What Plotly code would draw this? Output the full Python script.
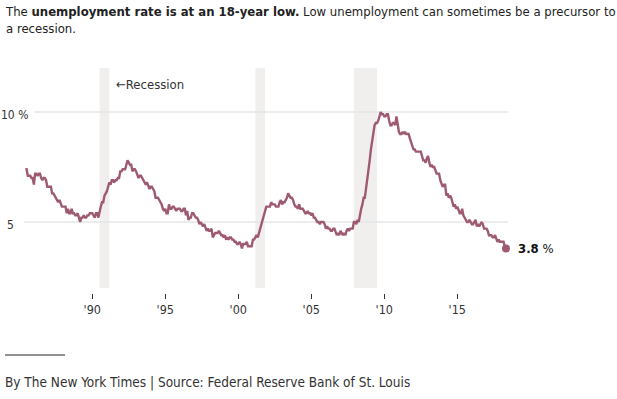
import plotly.graph_objects as go

# Monthly US unemployment rate (%), June 1985 - May 2018
start_year = 1985
start_month = 6
rate_1985_1989 = [7.4, 7.4, 7.1, 7.1, 7.1, 7.0, 7.0,
                  6.7, 7.2, 7.2, 7.1, 7.2, 7.2, 7.0, 6.9, 7.0, 7.0, 6.9, 6.6,
                  6.6, 6.6, 6.6, 6.3, 6.3, 6.2, 6.1, 6.0, 5.9, 6.0, 5.8, 5.7,
                  5.7, 5.7, 5.7, 5.4, 5.6, 5.4, 5.4, 5.6, 5.4, 5.4, 5.3, 5.3,
                  5.4, 5.2, 5.0, 5.2, 5.2, 5.3, 5.2, 5.2, 5.3, 5.3, 5.4, 5.4]
rate_1990_1999 = [5.4, 5.3, 5.2, 5.4, 5.4, 5.2, 5.5, 5.7, 5.9, 5.9, 6.2, 6.3,
                  6.4, 6.6, 6.8, 6.7, 6.9, 6.9, 6.8, 6.9, 6.9, 7.0, 7.0, 7.3,
                  7.3, 7.4, 7.4, 7.4, 7.6, 7.8, 7.7, 7.6, 7.6, 7.3, 7.4, 7.4,
                  7.3, 7.1, 7.0, 7.1, 7.1, 7.0, 6.9, 6.8, 6.7, 6.8, 6.6, 6.5,
                  6.6, 6.6, 6.5, 6.4, 6.1, 6.1, 6.1, 6.0, 5.9, 5.8, 5.6, 5.5,
                  5.6, 5.4, 5.4, 5.8, 5.6, 5.6, 5.7, 5.7, 5.6, 5.5, 5.6, 5.6,
                  5.6, 5.5, 5.5, 5.6, 5.6, 5.3, 5.5, 5.1, 5.2, 5.2, 5.4, 5.4,
                  5.3, 5.2, 5.2, 5.1, 4.9, 5.0, 4.9, 4.8, 4.9, 4.7, 4.6, 4.7,
                  4.6, 4.6, 4.7, 4.3, 4.4, 4.5, 4.5, 4.5, 4.6, 4.5, 4.4, 4.4,
                  4.3, 4.4, 4.2, 4.3, 4.2, 4.3, 4.3, 4.2, 4.2, 4.1, 4.1, 4.0]
rate_2000_2009 = [4.0, 4.1, 4.0, 3.8, 4.0, 4.0, 4.0, 4.1, 3.9, 3.9, 3.9, 3.9,
                  4.2, 4.2, 4.3, 4.4, 4.3, 4.5, 4.6, 4.9, 5.0, 5.3, 5.5, 5.7,
                  5.7, 5.7, 5.7, 5.9, 5.8, 5.8, 5.8, 5.7, 5.7, 5.7, 5.9, 6.0,
                  5.8, 5.9, 5.9, 6.0, 6.1, 6.3, 6.2, 6.1, 6.1, 6.0, 5.8, 5.7,
                  5.7, 5.6, 5.8, 5.6, 5.6, 5.6, 5.5, 5.4, 5.4, 5.5, 5.4, 5.4,
                  5.3, 5.4, 5.2, 5.2, 5.1, 5.0, 5.0, 4.9, 5.0, 5.0, 5.0, 4.9,
                  4.7, 4.8, 4.7, 4.7, 4.6, 4.6, 4.7, 4.7, 4.5, 4.4, 4.5, 4.4,
                  4.6, 4.5, 4.4, 4.5, 4.4, 4.6, 4.7, 4.6, 4.7, 4.7, 4.7, 5.0,
                  5.0, 4.9, 5.1, 5.0, 5.4, 5.6, 5.8, 6.1, 6.1, 6.5, 6.8, 7.3,
                  7.8, 8.3, 8.7, 9.0, 9.4, 9.5, 9.5, 9.6, 9.8, 10.0, 9.9, 9.9]
rate_2010_2018 = [9.8, 9.8, 9.9, 9.9, 9.6, 9.4, 9.4, 9.5, 9.5, 9.4, 9.8, 9.3,
                  9.1, 9.0, 9.0, 9.1, 9.0, 9.1, 9.0, 9.0, 9.0, 8.8, 8.6, 8.5,
                  8.3, 8.3, 8.2, 8.2, 8.2, 8.2, 8.2, 8.0, 7.8, 7.8, 7.7, 7.9,
                  8.0, 7.7, 7.5, 7.6, 7.5, 7.5, 7.3, 7.2, 7.2, 7.2, 6.9, 6.7,
                  6.6, 6.7, 6.7, 6.2, 6.3, 6.1, 6.2, 6.1, 5.9, 5.7, 5.8, 5.6,
                  5.7, 5.5, 5.4, 5.4, 5.6, 5.3, 5.2, 5.1, 5.0, 5.0, 5.1, 5.0,
                  4.9, 4.9, 5.0, 5.1, 4.8, 4.9, 4.8, 4.9, 5.0, 4.9, 4.7, 4.7,
                  4.7, 4.6, 4.4, 4.4, 4.4, 4.3, 4.3, 4.4, 4.2, 4.1, 4.2, 4.1,
                  4.1, 4.1, 4.1, 3.9, 3.8]

recession_starts = [1990.5, 2001.17, 2007.92]
recession_ends = [1991.17, 2001.83, 2009.5]

tick_years = [1990, 1995, 2000, 2005, 2010, 2015]
tick_labels = ["'90", "'95", "'00", "'05", "'10", "'15"]
grid_values = [5, 10]
grid_labels = ["5", "10 %"]

rates = rate_1985_1989 + rate_1990_1999 + rate_2000_2009 + rate_2010_2018
x = [start_year + (start_month - 1 + i) / 12 for i in range(len(rates))]

FONT = "DejaVu Sans Condensed, Roboto, Arial, sans-serif"
LINE = "#9f5a73"
W, H = 617, 399

# plot area geometry (pixels)
L, R, T, B = 20, 520, 60, 293


def px(v):
    return (v - L) / (R - L)


def py(v):
    return (B - v) / (B - T)


px_per_year = 14.6
x0_px = 92.3
px_per_unit = 22.0
y5_px = 222.0
xr = [1990 - (x0_px - L) / px_per_year, 1990 + (R - x0_px) / px_per_year]
yr = [5 - (B - y5_px) / px_per_unit, 5 + (y5_px - T) / px_per_unit]

fig = go.Figure()

shapes = []
for s, e in zip(recession_starts, recession_ends):
    shapes.append(dict(type="rect", xref="x", yref="paper", x0=s, x1=e,
                       y0=py(288), y1=py(68), fillcolor="#f1efed",
                       line=dict(width=0), layer="below"))
grid_start = [1985.3, 1986.05]
for v, gs in zip(grid_values, grid_start):
    shapes.append(dict(type="line", xref="x", yref="y", x0=gs, x1=2018.47,
                       y0=v, y1=v, line=dict(color="#e6e6e6", width=1.5),
                       layer="below"))
# footer rule
shapes.append(dict(type="line", xref="paper", yref="paper", x0=px(5), x1=px(65),
                   y0=py(355), y1=py(355), line=dict(color="#222", width=1)))

fig.add_trace(go.Scatter(x=x, y=rates, mode="lines",
                         line=dict(color=LINE, width=2.4), hoverinfo="skip"))
fig.add_trace(go.Scatter(x=[x[-1]], y=[rates[-1]], mode="markers",
                         marker=dict(color=LINE, size=8), hoverinfo="skip"))

ann = []
for v, lab in zip(grid_values, grid_labels):
    ann.append(dict(xref="paper", yref="y", x=px(16 if v == 5 else 30), y=v,
                    yshift=-3, text=lab, showarrow=False, xanchor="right",
                    yanchor="middle", font=dict(family=FONT, size=12, color="#333")))
ann.append(dict(xref="x", yref="y", x=x[-1], y=rates[-1], xshift=10,
                text="<b>%.1f</b> %%" % rates[-1], showarrow=False, xanchor="left",
                yanchor="middle", font=dict(family=FONT, size=13, color="#111")))
ann.append(dict(xref="x", yref="paper", x=recession_ends[0], xshift=5,
                y=py(84), text="\u2190Recession", showarrow=False,
                xanchor="left", yanchor="middle",
                font=dict(family=FONT, size=13, color="#333")))
ann.append(dict(xref="paper", yref="paper", x=px(3), y=py(2),
                text="The <b>unemployment rate is at an 18-year low.</b> Low unemployment can sometimes be a precursor to<br>a recession.",
                showarrow=False, xanchor="left", yanchor="top", align="left",
                font=dict(family=FONT, size=13, color="#222")))
ann.append(dict(xref="paper", yref="paper", x=px(3), y=py(382),
                text="By The New York Times | Source: Federal Reserve Bank of St. Louis",
                showarrow=False, xanchor="left", yanchor="middle",
                font=dict(family=FONT, size=13.5, color="#333")))

fig.update_layout(
    width=W, height=H, margin=dict(l=L, r=W - R, t=T, b=H - B),
    paper_bgcolor="white", plot_bgcolor="white", showlegend=False,
    shapes=shapes, annotations=ann,
    xaxis=dict(range=xr, tickvals=tick_years, ticktext=tick_labels,
               ticks="outside", ticklen=5, tickwidth=1, tickcolor="#333",
               showgrid=False, zeroline=False, showline=False,
               tickfont=dict(family=FONT, size=12.5, color="#333")),
    yaxis=dict(range=yr, showgrid=False, zeroline=False, showline=False,
               showticklabels=False, ticks=""),
)

fig.write_html("out.html", config={"displayModeBar": False},
               post_script="document.body.style.margin='0';")
